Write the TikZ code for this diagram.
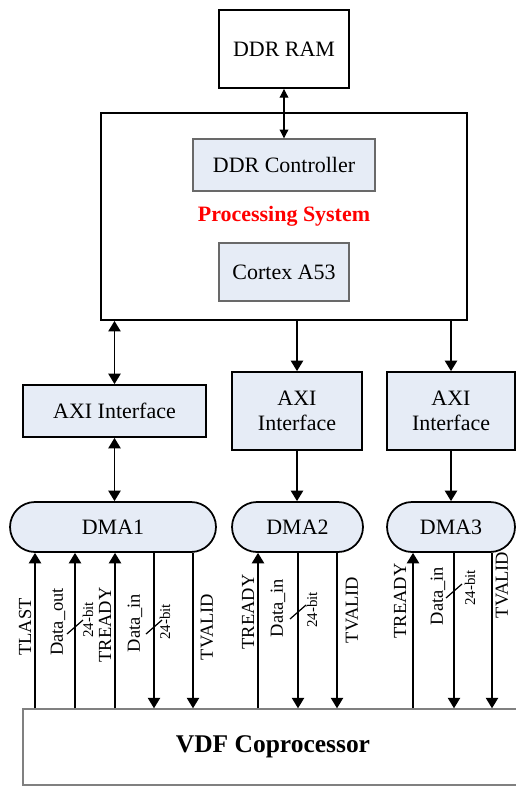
\documentclass[tikz,border=0pt]{standalone}
\usepackage{fontspec}
\setmainfont{Liberation Serif}
\usetikzlibrary{arrows.meta}
\usetikzlibrary{calc}

\definecolor{blockfill}{RGB}{230,236,246}
\definecolor{blockline}{RGB}{105,105,105}

\begin{document}
\begin{tikzpicture}[x=0.02cm, y=-0.02cm,
    font=\fontsize{12.5}{14}\selectfont,
    outerbox/.style={draw, line width=1.1pt, inner sep=0pt},
    innerbox/.style={draw=blockline, fill=blockfill, line width=0.8pt, inner sep=0pt},
    axibox/.style={draw, fill=blockfill, line width=1pt, inner sep=0pt, align=center},
    dmabox/.style={draw, fill=blockfill, line width=1pt, rounded corners=0.5cm, minimum height=1cm, inner sep=0pt},
    link/.style={line width=1pt, -{Triangle[length=6pt,width=7pt]}},
    duallink/.style={line width=1pt, {Triangle[length=6pt,width=7pt]}-{Triangle[length=6pt,width=7pt]}},
    siglabel/.style={rotate=90, font=\fontsize{10.5}{12}\selectfont},
    buswidth/.style={rotate=90, font=\fontsize{8.5}{10}\selectfont},
  ]
  \useasboundingbox (0,0) rectangle (516,786);

  % Memory and processing system
  \node [outerbox, minimum width=2.6cm, minimum height=1.56cm] (ram) at (284,49) {DDR RAM};
  \node [outerbox, minimum width=7.32cm, minimum height=4.14cm] (ps) at (284,216.5) {};
  \node [innerbox, minimum width=3.64cm, minimum height=1.04cm] (ctrl) at (284,165) {DDR Controller};
  \node [text=red, font=\bfseries\fontsize{12.5}{14}\selectfont] (pslabel) at (284,216) {Processing System};
  \node [innerbox, minimum width=2.6cm, minimum height=1.16cm] (cpu) at (284,272) {Cortex A53};
  \draw [line width=0.6pt, {Triangle[length=5pt,width=5pt]}-{Triangle[length=5pt,width=5pt]}] (ram.south) -- (ctrl.north);

  % AXI interfaces
  \node [axibox, minimum width=3.66cm, minimum height=1.04cm] (axi1) at (114.5,411) {AXI Interface};
  \node [axibox, minimum width=2.6cm, minimum height=1.56cm] (axi2) at (297,411) {AXI\\Interface};
  \node [axibox, minimum width=2.56cm, minimum height=1.56cm] (axi3) at (451,411) {AXI\\Interface};

  % DMA engines
  \node [dmabox, minimum width=4.12cm] (dma1) at (113,527) {DMA1};
  \node [dmabox, minimum width=2.62cm] (dma2) at (297.5,527) {DMA2};
  \node [dmabox, minimum width=2.56cm] (dma3) at (451,527) {DMA3};

  % Coprocessor
  \node [draw=gray, line width=0.8pt, minimum width=10cm, minimum height=1.52cm, font=\bfseries\fontsize{14.5}{16}\selectfont] (vdf) at (273,747) {VDF Coprocessor};

  % PS <-> AXI <-> DMA
  \draw [duallink] (ps.south -| axi1.north) -- (axi1.north);
  \draw [duallink] (axi1.south) -- (axi1.south |- dma1.north);
  \foreach \k in {2,3} {
    \draw [link] (ps.south -| axi\k.north) -- (axi\k.north);
    \draw [link] (axi\k.south) -- (axi\k.south |- dma\k.north);
  }

  % Stream signals, coprocessor to DMA
  \foreach \x/\d in {35/1, 75/1, 115/1, 258/2, 413/3}
    \draw [link] (\x,0 |- vdf.north) -- (\x,0 |- dma\d.south);
  % Stream signals, DMA to coprocessor
  \foreach \x/\d in {154/1, 193/1, 298/2, 337/2, 454/3, 492/3}
    \draw [link] (\x,0 |- dma\d.south) -- (\x,0 |- vdf.north);

  % Signal names
  \foreach \x/\y/\txt [count=\i] in {25/627/TLAST, 58/622/Data\_out, 105/625/TREADY, 135/623/Data\_in, 207/627/TVALID,
      248/612/TREADY, 278/608/Data\_in, 352/610/TVALID,
      400/601/TREADY, 438/596/Data\_in, 502/585/TVALID}
    \node [siglabel] (sig\i) at (\x,\y) {\txt};

  % Bus width marks
  \foreach \x/\y/\bx/\by [count=\i] in {75/627/88/620, 154/627/165/622, 298/612/312/610, 454/591/470/588} {
    \draw [line width=0.7pt] (\x-8,\y+7) -- (\x+8,\y-7);
    \node [buswidth] (bus\i) at (\bx,\by) {24-bit};
  }
\end{tikzpicture}
\end{document}
